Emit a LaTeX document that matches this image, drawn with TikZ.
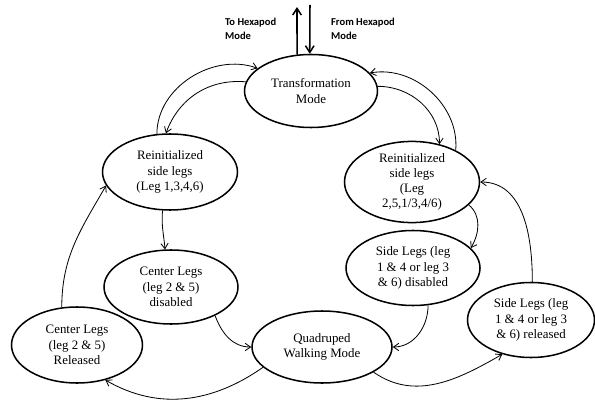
\documentclass[tikz,border=0pt]{standalone}
\usepackage{fontspec}
\setmainfont{Liberation Serif}
\newfontfamily\labelfont{Carlito}
\usetikzlibrary{shapes.geometric,arrows.meta}
\begin{document}
\begin{tikzpicture}[x=0.03cm,y=-0.03cm,>={Straight Barb[length=1.6mm,width=2.2mm]},
    state/.style={draw,ellipse,line width=1.3pt,inner sep=0pt,align=center,font=\fontsize{11}{13}\selectfont},
    link/.style={->,line width=0.7pt},
    modeline/.style={-{Straight Barb[length=2mm,width=2.6mm]},line width=1.3pt},
    modelabel/.style={align=left,font=\labelfont\bfseries\fontsize{9}{11.5}\selectfont}]
                \useasboundingbox (0,0) rectangle (595,401);
                \node[state,minimum width=133*0.03cm,minimum height=73*0.03cm] (T) at (311,91) {Transformation\\Mode};
                \node[state,minimum width=135*0.03cm,minimum height=76*0.03cm] (RL) at (170,172) {Reinitialized\\side legs\\(Leg 1,3,4,6)};
                \node[state,minimum width=135*0.03cm,minimum height=76*0.03cm] (RR) at (412,182) {Reinitialized\\side legs\\(Leg\\2,5,1/3,4/6)};
                \node[state,minimum width=134*0.03cm,minimum height=74*0.03cm] (CD) at (171,287) {Center Legs\\(leg 2 \& 5)\\disabled};
                \node[state,minimum width=131*0.03cm,minimum height=76*0.03cm] (CR) at (77,345) {Center Legs\\(leg 2 \& 5)\\Released};
                \node[state,minimum width=140*0.03cm,minimum height=72*0.03cm] (Q) at (322,347) {Quadruped\\Walking Mode};
                \node[state,minimum width=134*0.03cm,minimum height=75*0.03cm] (SD) at (413,268) {Side Legs (leg\\1 \& 4 or leg 3\\\& 6) disabled};
                \node[state,minimum width=127*0.03cm,minimum height=75*0.03cm] (SR) at (531,320) {Side Legs (leg\\1 \& 4 or leg 3\\\& 6) released};

                \coordinate (Hout) at (297,7);
                \coordinate (Hin) at (310,5);
                \node[modelabel,anchor=north west] (Lout) at (221,14) {To Hexapod\\Mode};
                \node[modelabel,anchor=north west] (Lin) at (327,14) {From Hexapod\\Mode};

                \draw[modeline] (T.111) to (Hout); \draw[modeline] (Hin) to (T.92);
                \draw[link] (RL.109) to[out=90,in=160] (T.157); \draw[link] (T.172) to[out=175,in=70] (RL.96);
                \draw[link] (T.4) to[out=0,in=90] (RR.54); \draw[link] (RR.36) to[out=85,in=10] (T.17);
                \draw[link] (RL.-101) to[out=-95,in=95] (CD.99); \draw[link] (RR.-22) to[out=-40,in=60] (SD.19);
                \draw[link] (CD.-33) to[out=-70,in=180] (Q.180); \draw[link] (SD.-68) to[out=-90,in=0] (Q.0);
                \draw[link] (Q.199) to[out=215,in=-30] (CR.-51); \draw[link] (Q.-26) to[out=-35,in=210] (SR.230);
                \draw[link] (SR.88) to[out=90,in=0] (RR.0); \draw[link] (CR.112) to[out=90,in=240] (RL.192);
            \end{tikzpicture}
\end{document}
